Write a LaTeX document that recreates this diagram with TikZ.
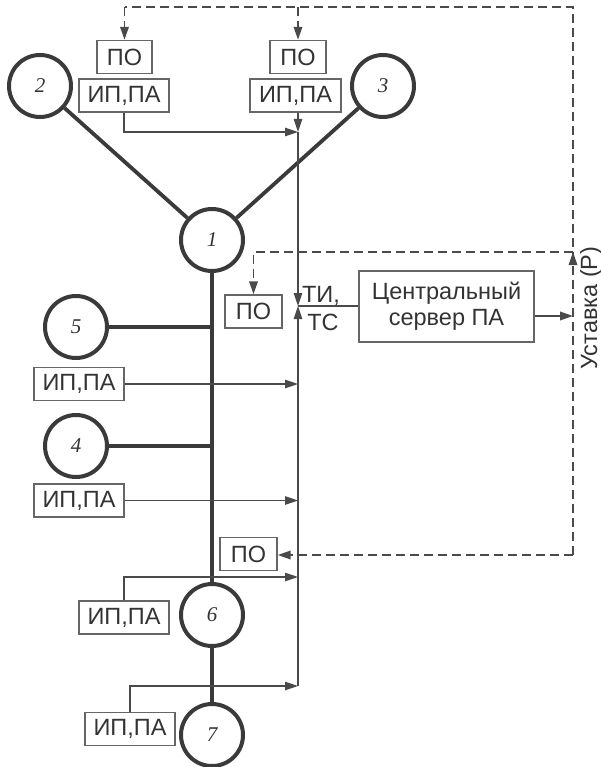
\documentclass[tikz,border=0pt]{standalone}
\usepackage{fontspec}
\setmainfont{Liberation Sans}
\newfontfamily\numfont{Liberation Serif}
\usetikzlibrary{arrows.meta}
\definecolor{dk}{HTML}{3A3A3A}
\definecolor{ln}{HTML}{4A4A4A}
\definecolor{bx}{HTML}{666666}
\definecolor{txt}{HTML}{333333}
\begin{document}
\begin{tikzpicture}[x=1pt,y=-1pt,
  circn/.style={circle, draw=dk, line width=4pt, minimum size=62pt, inner sep=0pt,
    font=\numfont\itshape\fontsize{21}{21}\selectfont, text=txt},
  boxn/.style={draw=bx, line width=1.4pt, minimum height=33pt, inner sep=0pt,
    font=\fontsize{23.5}{23.5}\selectfont, text=txt},
  busline/.style={draw=dk, line width=3.8pt},
  sigline/.style={draw=ln, line width=1.2pt},
  arr/.style={-{Triangle[length=13pt,width=8.5pt]}},
  dashline/.style={draw=ln, line width=1.9pt, dash pattern=on 9pt off 5pt},
  lbl/.style={font=\fontsize{23.5}{23.5}\selectfont, text=txt, inner sep=0pt}
]
\useasboundingbox (0,0) rectangle (601,767);

% circles
\node[circn] (c2) at (40,86) {2};
\node[circn] (c3) at (383,86) {3};
\node[circn] (c1) at (212,240) {1};
\node[circn] (c5) at (76,327) {5};
\node[circn] (c4) at (76,446) {4};
\node[circn] (c6) at (212,615) {6};
\node[circn] (c7) at (212,735) {7};

% boxes
\node[boxn, minimum width=55pt] (po1) at (124.5,57) {ПО};
\node[boxn, minimum width=90pt] (ip1) at (124,95.5) {ИП,ПА};
\node[boxn, minimum width=56pt] (po2) at (298,57) {ПО};
\node[boxn, minimum width=91pt] (ip2) at (295.5,95.5) {ИП,ПА};
\node[boxn, minimum width=57pt] (po3) at (253.5,311.5) {ПО};
\node[boxn, minimum width=90pt] (ip5) at (79,384) {ИП,ПА};
\node[boxn, minimum width=90pt] (ip4) at (79,500.5) {ИП,ПА};
\node[boxn, minimum width=57pt] (po4) at (248.5,554) {ПО};
\node[boxn, minimum width=90pt] (ip6) at (124,617.5) {ИП,ПА};
\node[boxn, minimum width=90pt] (ip7) at (130,729) {ИП,ПА};
\node[boxn, minimum width=175pt, minimum height=71pt, align=center,
  font=\fontsize{23.5}{26}\selectfont] (srv) at (446.5,306.5) {Центральный\\сервер ПА};

% labels
\node[lbl, anchor=base] (ti) at (321,302) {ТИ,};
\node[lbl, anchor=base] (tc) at (323,330) {ТС};
\node[lbl, rotate=90] (ust) at (591,308) {Уставка (Р)};

% power lines
\draw[busline] (c2) -- (c1);
\draw[busline] (c3) -- (c1);
\draw[busline] (c1.south) -- (c6.north);
\draw[busline] (c6.south) -- (c7.north);
\draw[busline] (c5.east) -- (c5.east -| c1.south);
\draw[busline] (c4.east) -- (c4.east -| c1.south);

% signal bus
\coordinate (bt) at (298,132);
\coordinate (bj) at (298,306);
\coordinate (b6) at (298,577);
\coordinate (bb) at (298,686);
\draw[sigline,arr] (ip1.south) |- (bt);
\draw[sigline,arr] (bt |- ip2.south) -- (bt);
\draw[sigline,arr] (bt) -- (bj);
\draw[sigline,arr] (bb) -- (bj);
\draw[sigline] (srv.west |- bj) -- (bj);
\draw[sigline,arr] (ip5.east) -- (ip5.east -| bt);
\draw[sigline,arr] (ip4.east) -- (ip4.east -| bt);
\draw[sigline,arr] (ip6.north) |- (b6);
\draw[sigline,arr] (ip7.north) |- (bb);

% setpoint
\coordinate (us) at (573,316);
\draw[draw=ln, line width=1.8pt, arr] (srv.east |- us) -- (us);

% dashed loops
\coordinate (dtl) at (124.5,7);
\coordinate (dtr) at (573,7);
\coordinate (dbr) at (573,555);
\coordinate (dj) at (573,252);
\draw[dashline] (dbr) -- (dtr) -- (dtl);
\draw[dashline,arr] (dtl) -- (po1.north);
\draw[dashline,arr] (po2.north |- dtl) -- (po2.north);
\draw[dashline,arr] (dbr) -- (po4.east |- dbr);
\draw[dashline,arr] (dj) -- (po3.north |- dj) -- (po3.north);
\draw[draw=ln, line width=1.5pt, arr] (573,264) -- (dj);
\end{tikzpicture}
\end{document}
